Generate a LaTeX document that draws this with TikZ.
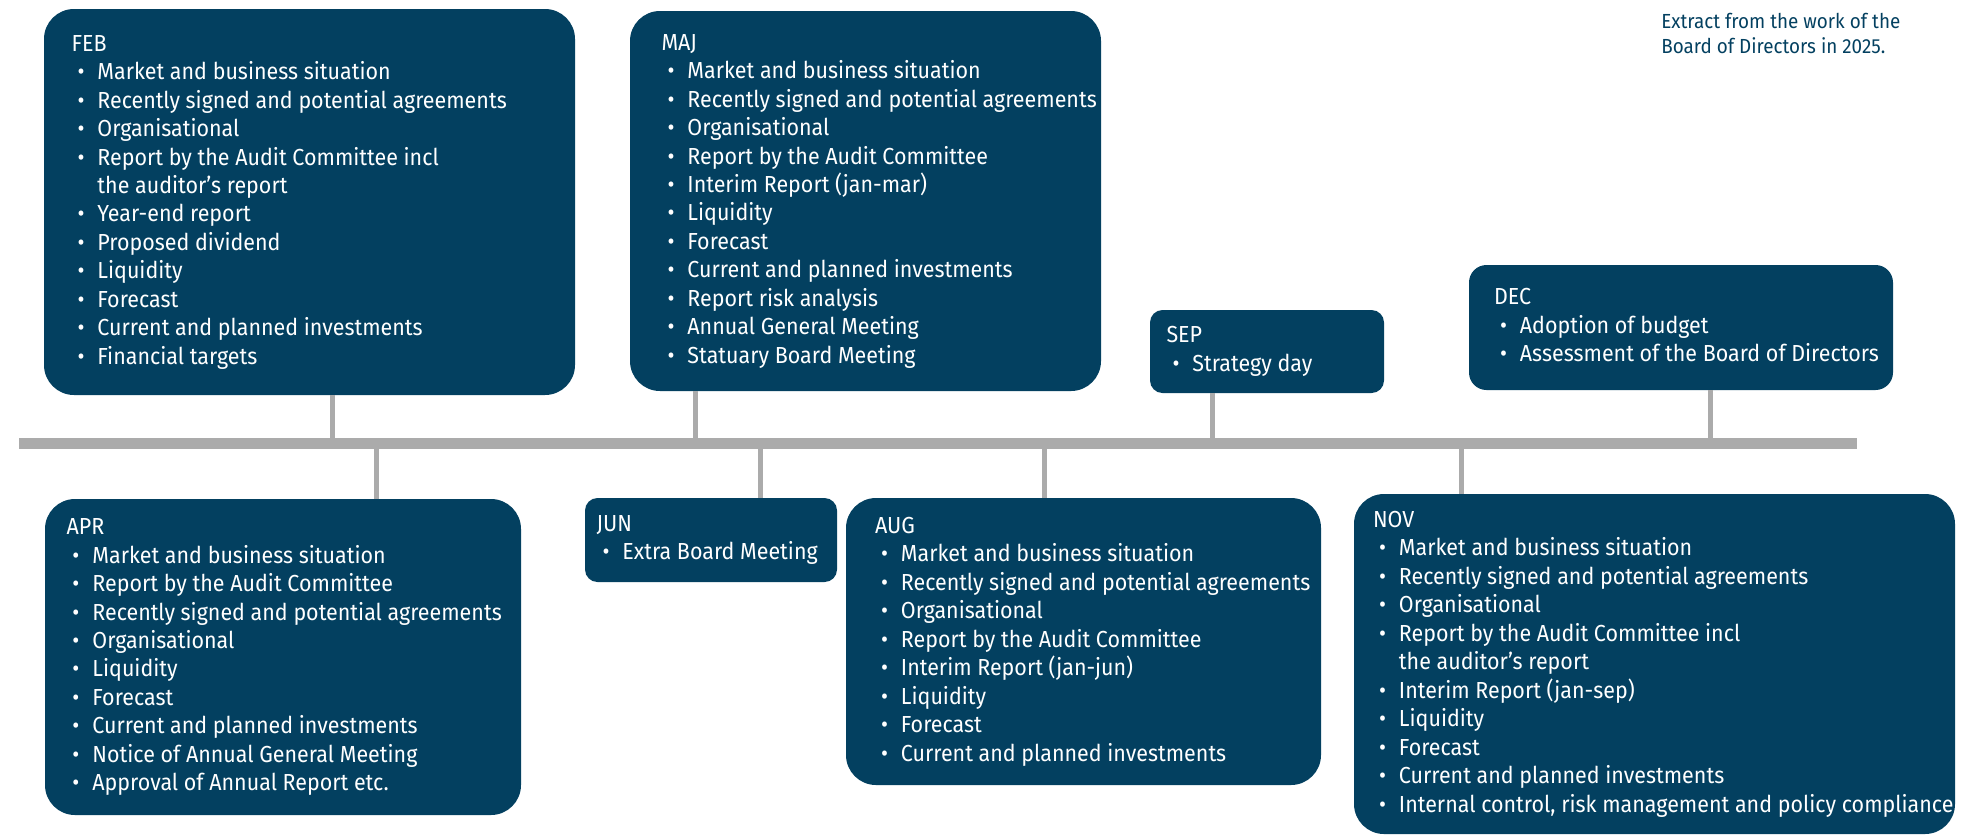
\documentclass[tikz,border=0pt]{standalone}
\usepackage{fontspec}
\setmainfont{Fira Sans}[FakeStretch=0.925]
\usetikzlibrary{positioning}

\definecolor{boardblue}{RGB}{3,64,96}
\definecolor{axisgrey}{RGB}{171,171,171}
\newcommand{\panelfont}{\fontsize{13.2}{16.2}\selectfont}
\newcommand{\notefont}{\fontsize{11.6}{14.4}\selectfont}
\newcommand{\itm}{\textbullet &}
\newcommand{\agenda}[2]{\begin{tabular}{@{\hspace{0.12cm}}l@{\hspace{0.26cm}}l@{}}\multicolumn{2}{@{}l@{}}{#1}\\#2\end{tabular}}

\begin{document}
\begin{tikzpicture}[
  panel/.style={fill=boardblue, inner sep=0pt, rounded corners=0.6cm},
  entry/.style={text=white, inner sep=0pt, font=\panelfont},
  stem/.style={draw=axisgrey, line width=0.1cm},
  ]
  \useasboundingbox (0,0) rectangle (39.34,-16.70);

  \node[fill=axisgrey, inner sep=0pt, minimum width=36.76cm, minimum height=0.22cm] (axis) at (18.76,-8.87) {};
  \coordinate (sfeb) at (6.64,-8.87);
  \coordinate (smaj) at (13.90,-8.87);
  \coordinate (ssep) at (24.24,-8.87);
  \coordinate (sdec) at (34.20,-8.87);
  \coordinate (sapr) at (7.52,-8.87);
  \coordinate (sjun) at (15.20,-8.87);
  \coordinate (saug) at (20.88,-8.87);
  \coordinate (snov) at (29.22,-8.87);

  \node[panel, minimum width=10.62cm, minimum height=7.72cm] (feb) at (6.19,-4.04) {};
  \node[entry, right=0.55cm of feb.west] (febtxt) {\agenda{FEB}{
    \itm Market and business situation\\
    \itm Recently signed and potential agreements\\
    \itm Organisational\\
    \itm Report by the Audit Committee incl\\
    & the auditor's report\\
    \itm Year-end report\\
    \itm Proposed dividend\\
    \itm Liquidity\\
    \itm Forecast\\
    \itm Current and planned investments\\
    \itm Financial targets\\}};

  \node[panel, minimum width=9.42cm, minimum height=7.60cm] (maj) at (17.31,-4.02) {};
  \node[entry, right=0.63cm of maj.west] (majtxt) {\agenda{MAJ}{
    \itm Market and business situation\\
    \itm Recently signed and potential agreements\\
    \itm Organisational\\
    \itm Report by the Audit Committee\\
    \itm Interim Report (jan-mar)\\
    \itm Liquidity\\
    \itm Forecast\\
    \itm Current and planned investments\\
    \itm Report risk analysis\\
    \itm Annual General Meeting\\
    \itm Statuary Board Meeting\\}};

  \node[panel, rounded corners=0.25cm, minimum width=4.68cm, minimum height=1.66cm] (sep) at (25.34,-7.03) {};
  \node[entry, right=0.33cm of sep.west] (septxt) {\agenda{SEP}{
    \itm Strategy day\\}};

  \node[panel, rounded corners=0.35cm, minimum width=8.48cm, minimum height=2.50cm] (dec) at (33.62,-6.55) {};
  \node[entry, right=0.50cm of dec.west] (dectxt) {\agenda{DEC}{
    \itm Adoption of budget\\
    \itm Assessment of the Board of Directors\\}};

  \node[panel, minimum width=9.52cm, minimum height=6.32cm] (apr) at (5.66,-13.14) {};
  \node[entry, right=0.43cm of apr.west] (aprtxt) {\agenda{APR}{
    \itm Market and business situation\\
    \itm Report by the Audit Committee\\
    \itm Recently signed and potential agreements\\
    \itm Organisational\\
    \itm Liquidity\\
    \itm Forecast\\
    \itm Current and planned investments\\
    \itm Notice of Annual General Meeting\\
    \itm Approval of Annual Report etc.\\}};

  \node[panel, rounded corners=0.25cm, minimum width=5.04cm, minimum height=1.68cm] (jun) at (14.22,-10.80) {};
  \node[entry, right=0.23cm of jun.west] (juntxt) {\agenda{JUN}{
    \itm Extra Board Meeting\\}};

  \node[panel, minimum width=9.50cm, minimum height=5.74cm] (aug) at (21.67,-12.83) {};
  \node[entry, right=0.58cm of aug.west] (augtxt) {\agenda{AUG}{
    \itm Market and business situation\\
    \itm Recently signed and potential agreements\\
    \itm Organisational\\
    \itm Report by the Audit Committee\\
    \itm Interim Report (jan-jun)\\
    \itm Liquidity\\
    \itm Forecast\\
    \itm Current and planned investments\\}};

  \node[panel, minimum width=12.02cm, minimum height=6.80cm] (nov) at (33.09,-13.28) {};
  \node[entry, right=0.38cm of nov.west] (novtxt) {\agenda{NOV}{
    \itm Market and business situation\\
    \itm Recently signed and potential agreements\\
    \itm Organisational\\
    \itm Report by the Audit Committee incl\\
    & the auditor's report\\
    \itm Interim Report (jan-sep)\\
    \itm Liquidity\\
    \itm Forecast\\
    \itm Current and planned investments\\
    \itm Internal control, risk management and policy compliance\\}};

  \node[anchor=north west, inner sep=0pt, align=left, text=boardblue, font=\notefont] (note) at (33.22,-0.26) {Extract from the work of the\\Board of Directors in 2025.};

  \draw[stem] (sfeb) -- (sfeb |- feb.south);
  \draw[stem] (smaj) -- (smaj |- maj.south);
  \draw[stem] (ssep) -- (ssep |- sep.south);
  \draw[stem] (sdec) -- (sdec |- dec.south);
  \draw[stem] (sapr) -- (sapr |- apr.north);
  \draw[stem] (sjun) -- (sjun |- jun.north);
  \draw[stem] (saug) -- (saug |- aug.north);
  \draw[stem] (snov) -- (snov |- nov.north);
\end{tikzpicture}
\end{document}
